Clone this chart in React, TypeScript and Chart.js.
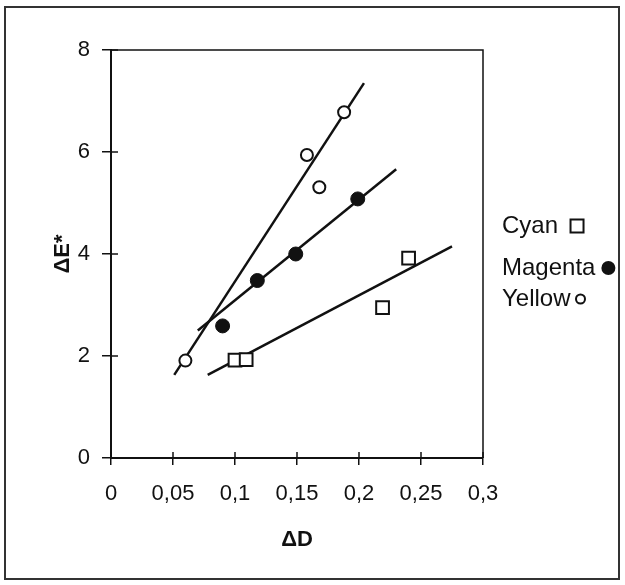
import { useEffect, useRef } from 'react';
import { Chart, registerables } from 'chart.js';

Chart.register(...registerables);

// ---- data ----
const seriesNames = ['Cyan', 'Magenta', 'Yellow'];

const cyanX = [0.1, 0.109, 0.219, 0.24];
const cyanY = [1.92, 1.93, 2.95, 3.92];

const magentaX = [0.09, 0.118, 0.149, 0.199];
const magentaY = [2.59, 3.48, 4.0, 5.08];

const yellowX = [0.06, 0.158, 0.168, 0.188];
const yellowY = [1.91, 5.94, 5.31, 6.78];

// fitted regression line end points
const cyanFitX = [0.078, 0.275];
const cyanFitY = [1.63, 4.15];
const magentaFitX = [0.07, 0.23];
const magentaFitY = [2.5, 5.66];
const yellowFitX = [0.051, 0.204];
const yellowFitY = [1.63, 7.35];

const xTickLabels = ['0', '0,05', '0,1', '0,15', '0,2', '0,25', '0,3'];
const yTickLabels = ['0', '2', '4', '6', '8'];

const xTitle = 'ΔD';
const yTitle = 'ΔE*';

const FONT = "'Liberation Sans', Arial, sans-serif";
const INK = '#111';

const pts = (xs: number[], ys: number[]) => xs.map((x, i) => ({ x, y: ys[i] }));

const framePlugin = {
  id: 'frameAndTicks',
  afterDraw(chart: any) {
    const { ctx, chartArea: a, scales } = chart;
    ctx.save();
    ctx.strokeStyle = INK;
    ctx.lineWidth = 1.5;
    ctx.beginPath();
    ctx.moveTo(a.left, a.top);
    ctx.lineTo(a.right, a.top);
    ctx.lineTo(a.right, a.bottom);
    ctx.stroke();
    scales.y.ticks.forEach((t: any) => {
      const py = scales.y.getPixelForValue(t.value);
      ctx.beginPath();
      ctx.moveTo(a.left, py);
      ctx.lineTo(a.left + 7, py);
      ctx.stroke();
    });
    scales.x.ticks.forEach((t: any) => {
      const px = scales.x.getPixelForValue(t.value);
      ctx.beginPath();
      ctx.moveTo(px, a.bottom);
      ctx.lineTo(px, a.bottom - 6);
      ctx.stroke();
    });
    ctx.restore();
  },
};

const legendLayout = [
  { y: 226, gap: 19, kind: 'rect', size: 6.5 },
  { y: 268, gap: 13, kind: 'dot', size: 7 },
  { y: 299, gap: 10, kind: 'ring', size: 4.5 },
];

const legendPlugin = {
  id: 'rightLegend',
  afterDraw(chart: any) {
    const { ctx } = chart;
    ctx.save();
    ctx.font = `24px ${FONT}`;
    ctx.textAlign = 'left';
    ctx.textBaseline = 'middle';
    seriesNames.forEach((name, i) => {
      const L = legendLayout[i];
      ctx.fillStyle = INK;
      ctx.strokeStyle = INK;
      ctx.fillText(name, 502, L.y);
      const mx = 502 + ctx.measureText(name).width + L.gap;
      ctx.lineWidth = 2;
      ctx.beginPath();
      if (L.kind === 'rect') {
        ctx.rect(mx - L.size, L.y - L.size, L.size * 2, L.size * 2);
        ctx.fillStyle = '#fff';
        ctx.fill();
        ctx.stroke();
      } else if (L.kind === 'dot') {
        ctx.arc(mx, L.y, L.size, 0, Math.PI * 2);
        ctx.fill();
      } else {
        ctx.arc(mx, L.y, L.size, 0, Math.PI * 2);
        ctx.stroke();
      }
    });
    ctx.restore();
  },
};

export default function App() {
  const ref = useRef<HTMLCanvasElement>(null);

  useEffect(() => {
    if (!ref.current) return;
    const lineDs = (xs: number[], ys: number[]) => ({
      data: pts(xs, ys),
      showLine: true,
      borderColor: INK,
      borderWidth: 2.5,
      pointRadius: 0,
      fill: false,
    });
    const chart = new Chart(ref.current, {
      type: 'scatter',
      data: {
        datasets: [
          {
            label: seriesNames[0],
            data: pts(cyanX, cyanY),
            pointStyle: 'rect',
            pointRadius: 9,
            pointBorderWidth: 2,
            pointBackgroundColor: '#fff',
            pointBorderColor: INK,
          },
          {
            label: seriesNames[1],
            data: pts(magentaX, magentaY),
            pointStyle: 'circle',
            pointRadius: 7,
            pointBorderWidth: 1,
            pointBackgroundColor: INK,
            pointBorderColor: INK,
          },
          {
            label: seriesNames[2],
            data: pts(yellowX, yellowY),
            pointStyle: 'circle',
            pointRadius: 6,
            pointBorderWidth: 2,
            pointBackgroundColor: '#fff',
            pointBorderColor: INK,
          },
          lineDs(cyanFitX, cyanFitY),
          lineDs(magentaFitX, magentaFitY),
          lineDs(yellowFitX, yellowFitY),
        ] as any,
      },
      options: {
        responsive: false,
        animation: false,
        devicePixelRatio: 1,
        layout: { padding: { left: 0, top: 50, right: 142, bottom: 0 } },
        plugins: {
          legend: { display: false },
          tooltip: { enabled: false },
        },
        scales: {
          x: {
            type: 'linear',
            min: 0,
            max: 0.3,
            afterFit: (s: any) => {
              s.height = 127;
            },
            ticks: {
              stepSize: 0.05,
              padding: 16,
              color: INK,
              font: { family: FONT, size: 22 },
              callback: (_v: any, i: number) => xTickLabels[i],
              maxRotation: 0,
            },
            grid: {
              drawOnChartArea: false,
              drawTicks: true,
              tickLength: 7,
              color: INK,
              lineWidth: 1.5,
            },
            border: { display: true, color: INK, width: 2 },
            title: {
              display: true,
              text: xTitle,
              color: INK,
              font: { family: FONT, size: 22, weight: 'bold' },
              padding: { top: 0, bottom: 32 },
            },
          },
          y: {
            type: 'linear',
            min: 0,
            max: 8,
            afterFit: (s: any) => {
              s.width = 111;
            },
            ticks: {
              stepSize: 2,
              padding: 12,
              color: INK,
              font: { family: FONT, size: 22 },
              callback: (_v: any, i: number) => yTickLabels[i],
            },
            grid: {
              drawOnChartArea: false,
              drawTicks: true,
              tickLength: 9,
              color: INK,
              lineWidth: 1.5,
            },
            border: { display: true, color: INK, width: 2 },
            title: {
              display: true,
              text: yTitle,
              color: INK,
              font: { family: FONT, size: 22, weight: 'bold' },
              padding: { top: 50, bottom: 0 },
            },
          },
        },
      } as any,
      plugins: [framePlugin, legendPlugin],
    });
    return () => chart.destroy();
  }, []);

  return (
    <div style={{ position: 'absolute', left: 0, top: 0, width: 625, height: 585, background: '#fff' }}>
      <canvas
        ref={ref}
        width={625}
        height={585}
        style={{ position: 'absolute', left: 0, top: 0, width: 625, height: 585 }}
      />
      <div
        style={{
          position: 'absolute',
          left: 4,
          top: 6,
          width: 616,
          height: 574,
          border: '2px solid #333',
          boxSizing: 'border-box',
          pointerEvents: 'none',
        }}
      />
    </div>
  );
}
